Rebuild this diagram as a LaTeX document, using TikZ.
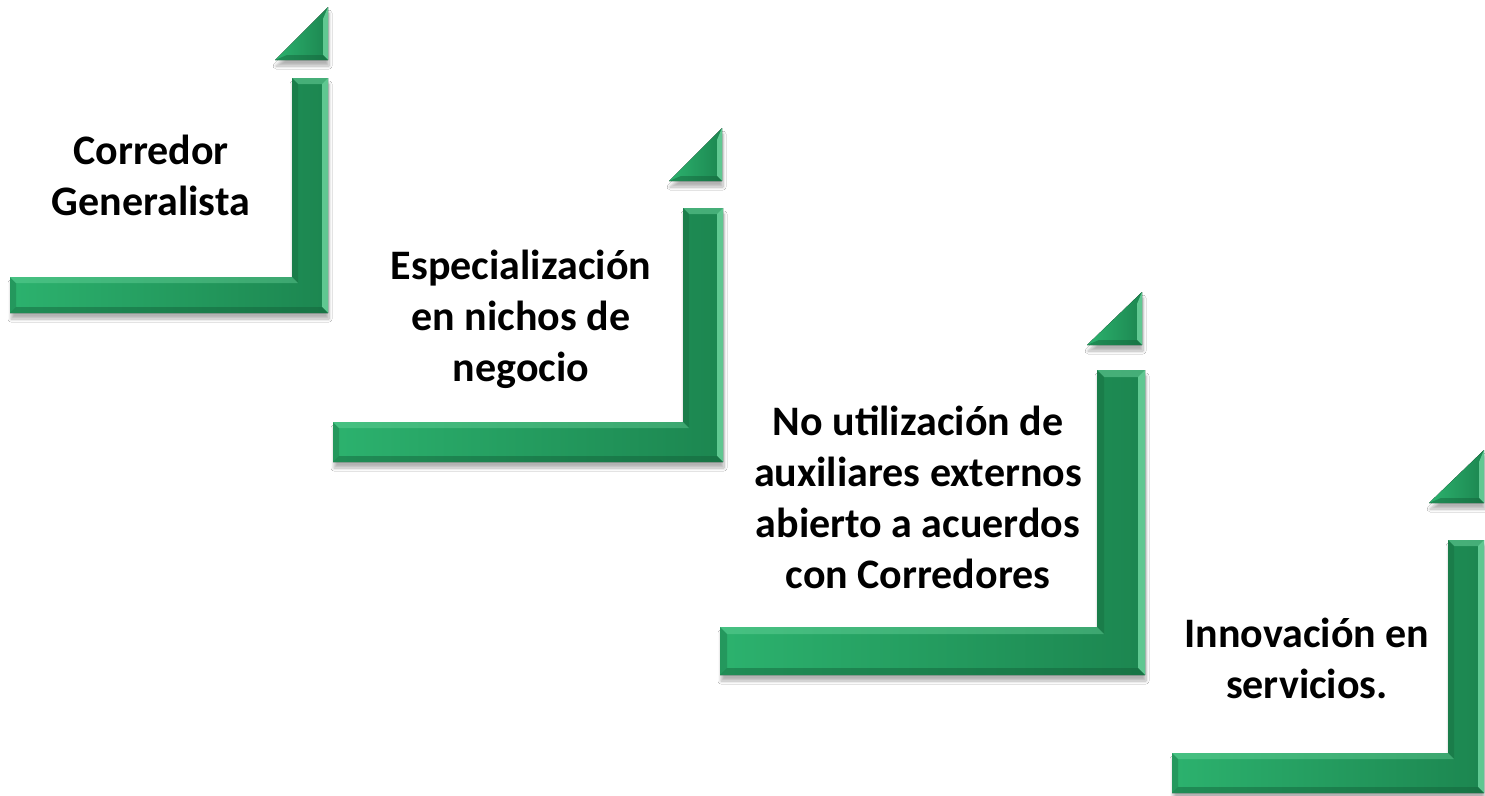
\documentclass[tikz,border=0pt]{standalone}
\usepackage{fontspec}
\setmainfont{Carlito}
\usetikzlibrary{shadows.blur}
\definecolor{gL}{RGB}{44,178,110}
\definecolor{gD}{RGB}{28,134,80}
\definecolor{gHi}{RGB}{120,222,168}
\definecolor{gLo}{RGB}{18,95,56}
\tikzset{
  lbar/.style={left color=gL, right color=gD,
    blur shadow={shadow xshift=1pt, shadow yshift=-6pt, shadow blur steps=8, shadow blur radius=3pt, shadow opacity=30}},
  steptext/.style={align=center, font=\fontsize{42}{51}\selectfont\bfseries, inner sep=0pt, text=black},
  bevhi/.style={fill=gHi, fill opacity=0.75},
  bevlo/.style={fill=gLo, fill opacity=0.45},
}
% #1 x left, #2 x inner vertical edge, #3 x right, #4 y top, #5 y top of horizontal, #6 y bottom, #7 bevel
\newcommand\stepL[7]{%
  \fill[lbar] (#1,#5) -- (#2,#5) -- (#2,#4) -- (#3,#4) -- (#3,#6) -- (#1,#6) -- cycle;
  \fill[bevhi] (#3,#4) -- (#3,#6) -- ({#3-#7},{#6-#7}) -- ({#3-#7},{#4+#7}) -- cycle;
  \fill[bevlo] (#1,#6) -- (#3,#6) -- ({#3-#7},{#6-#7}) -- ({#1+#7},{#6-#7}) -- cycle;
  \fill[bevhi, fill opacity=0.45] (#2,#4) -- (#3,#4) -- ({#3-#7},{#4+#7}) -- ({#2+#7},{#4+#7}) -- cycle;
  \fill[bevlo, fill opacity=0.3] (#1,#5) -- (#1,#6) -- ({#1+#7},{#6-#7}) -- ({#1+#7},{#5+#7}) -- cycle;
  \fill[bevhi, fill opacity=0.35] (#1,#5) -- (#2,#5) -- ({#2+#7},{#5+#7}) -- ({#1+#7},{#5+#7}) -- cycle;
  \fill[bevlo, fill opacity=0.3] (#2,#4) -- (#2,#5) -- ({#2+#7},{#5+#7}) -- ({#2+#7},{#4+#7}) -- cycle;
}
% #1 x left, #2 x right, #3 y top, #4 y bottom
\newcommand\stepT[4]{%
  \fill[lbar] (#1,#4) -- (#2,#4) -- (#2,#3) -- cycle;
  \fill[bevhi] (#2,#3) -- (#2,#4) -- ({#2-5},{#4-5}) -- ({#2-5},{#3+12}) -- cycle;
  \fill[bevlo] (#1,#4) -- (#2,#4) -- ({#2-5},{#4-5}) -- ({#1+12},{#4-5}) -- cycle;
}
\begin{document}
\begin{tikzpicture}[x=1pt,y=-1pt]
\useasboundingbox (0,0) rectangle (1485,795);
\fill[white] (0,0) rectangle (1485,795);
% step 1
\stepT{275}{328}{7}{60}
\stepL{10}{292}{328}{78}{277}{313}{6}
% step 2
\stepT{669}{722}{128}{181}
\stepL{333}{683}{723}{208}{422}{462}{6}
% step 3
\stepT{1087}{1142}{292}{345}
\stepL{720}{1097}{1145}{370}{627}{675}{7}
% step 4
\stepT{1429}{1484}{450}{503}
\stepL{1172}{1448}{1484}{540}{753}{793}{6}
% texts
\node[steptext] (t1) at (151,175) {Corredor\\Generalista};
\node[steptext] (t2) at (521,319) {Especialización\\en nichos de\\negocio};
\node[steptext] (t3) at (918,497) {No utilización de\\auxiliares externos\\abierto a acuerdos\\con Corredores};
\node[steptext] (t4) at (1307,658) {Innovación en\\servicios.};
\end{tikzpicture}
\end{document}
